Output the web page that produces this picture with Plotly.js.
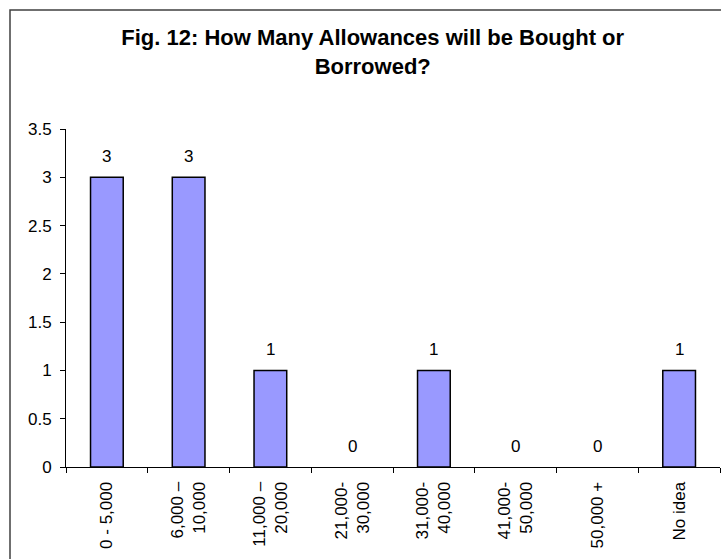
<!DOCTYPE html>
<html>
<head>
<meta charset="utf-8">
<script src="https://cdn.plot.ly/plotly-3.0.1.min.js"></script>
<style>html,body{margin:0;padding:0;background:#fff;}#chart{width:721px;height:559px;}</style>
</head>
<body>
<div id="chart"></div>
<script>
const categories = ["0 - 5,000", "6,000 –<br>10,000", "11,000 –<br>20,000", "21,000-<br>30,000", "31,000-<br>40,000", "41,000-<br>50,000", "50,000 +", "No idea"];
const counts = [3, 3, 1, 0, 1, 0, 0, 1];
const titleText = "Fig. 12: How Many Allowances will be Bought or<br>Borrowed?";
const yTicks = [0, 0.5, 1, 1.5, 2, 2.5, 3, 3.5];

const FONT = "Arial, 'Liberation Sans', sans-serif";

const trace = {
  type: "bar",
  x: categories,
  y: counts,
  width: 0.4,
  marker: {color: "#9999FF", line: {color: "#000000", width: counts.map(v => v === 0 ? 0 : 1.5)}},
  hoverinfo: "skip"
};

const annotations = categories.map((c, i) => ({
  x: c, y: counts[i], xref: "x", yref: "y",
  text: String(counts[i]), showarrow: false,
  yanchor: "middle", yshift: 21,
  font: {family: FONT, size: 17, color: "#000"}
}));

const layout = {
  width: 721, height: 559,
  margin: {l: 66, r: 1, t: 129, b: 92},
  paper_bgcolor: "#ffffff", plot_bgcolor: "#ffffff",
  showlegend: false,
  font: {family: FONT, size: 17, color: "#000"},
  title: {
    text: titleText,
    font: {family: FONT, size: 22, color: "#000", weight: "bold"},
    xref: "paper", x: 0.469, xanchor: "center",
    yref: "container", y: 1 - 45/559, yanchor: "top"
  },
  xaxis: {
    type: "category",
    tickangle: -90,
    showline: true, linecolor: "#000", linewidth: 1,
    ticks: "outside", tickson: "boundaries", ticklen: 5, tickcolor: "#000",
    ticklabelstandoff: 7,
    showgrid: false, zeroline: false,
    tickfont: {family: FONT, size: 17, color: "#000"},
    range: [-0.5, 7.5]
  },
  yaxis: {
    range: [0, 3.5],
    tickvals: yTicks,
    ticktext: yTicks.map(String),
    showline: true, linecolor: "#000", linewidth: 1,
    ticks: "outside", ticklen: 5, tickcolor: "#000",
    ticklabelstandoff: 5,
    showgrid: false, zeroline: false,
    tickfont: {family: FONT, size: 17, color: "#000"}
  },
  annotations: annotations,
  shapes: [{
    type: "rect", xref: "paper", yref: "paper",
    x0: (10 - 66) / 654, x1: (760 - 66) / 654,
    y0: (467 - 580) / 338, y1: (467 - 10) / 338,
    line: {color: "#404040", width: 1.5}, fillcolor: "rgba(0,0,0,0)", layer: "below"
  }]
};

Plotly.newPlot("chart", [trace], layout, {staticPlot: true, displayModeBar: false});
</script>
</body>
</html>
